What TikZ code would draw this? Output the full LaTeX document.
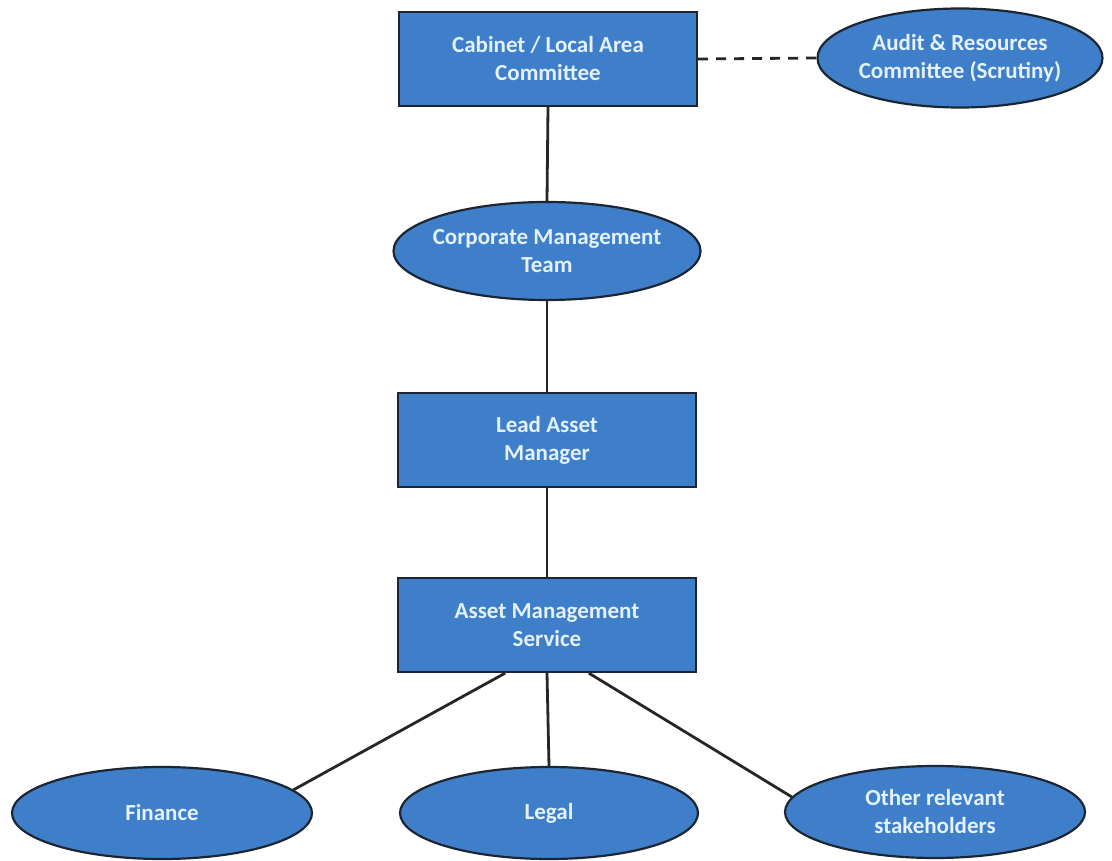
\documentclass[tikz,border=0pt]{standalone}
\usepackage{fontspec}
\setmainfont{Carlito}
\usetikzlibrary{shapes.geometric}
\definecolor{boxblue}{HTML}{3F7FC9}
\definecolor{boxtext}{HTML}{E4F1FF}
\definecolor{boxline}{HTML}{1C2633}
\tikzset{
  box/.style={draw=boxline,line width=2.2pt,fill=boxblue,text=boxtext,
    font=\bfseries\fontsize{23}{28}\selectfont,align=center,
    minimum width=298pt,minimum height=94pt,inner sep=0pt},
  oval/.style={ellipse,draw=boxline,line width=2.2pt,fill=boxblue,text=boxtext,
    font=\bfseries\fontsize{23}{28}\selectfont,align=center,
    inner ysep=0pt,inner xsep=-14pt},
  link/.style={draw=black!85,line width=2.8pt}
}
\begin{document}
\begin{tikzpicture}[x=1pt,y=-1pt]
\useasboundingbox (0,0) rectangle (1112,861);

% top row
\path (548,59) node[box] (cab) {Cabinet / Local Area\\Committee};
\path (960,58) node[oval,minimum width=285pt,minimum height=99pt] (aud) {Audit \& Resources\\Committee (Scrutiny)};

% chain down the middle
\path (547,251) node[oval,minimum width=307pt,minimum height=98pt] (cmt) {Corporate Management\\Team};
\path (547,440) node[box] (lam) {Lead Asset\\Manager};
\path (547,625) node[box] (ams) {Asset Management\\Service};

% bottom row
\path (162,813) node[oval,minimum width=300pt,minimum height=92pt] (fin) {Finance};
\path (549,813) node[oval,minimum width=298pt,minimum height=92pt] (leg) {Legal};
\path (935,812) node[oval,minimum width=300pt,minimum height=92pt] (oth) {Other relevant\\stakeholders};

\draw[link,dash pattern=on 10pt off 8pt] (cab.east) -- (aud.west);
\draw[link] (cab.south) -- (cmt.north);
\draw[link] (cmt.south) -- (lam.north);
\draw[link] (lam.south) -- (ams.north);
\draw[link] (ams.229) -- (fin.10);
\draw[link] (ams.south) -- (leg.north);
\draw[link] (ams.311) -- (oth.174);
\end{tikzpicture}
\end{document}
